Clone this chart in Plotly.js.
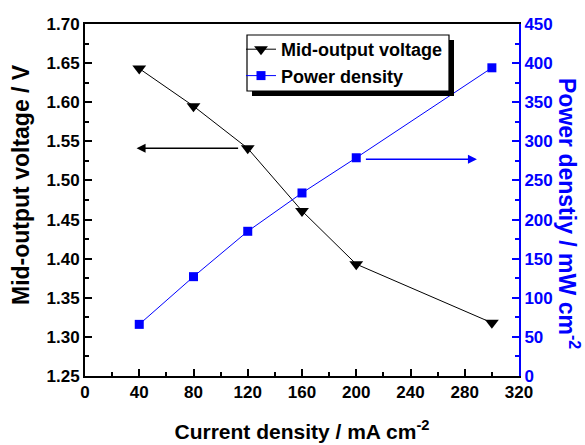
<!DOCTYPE html>
<html>
<head>
<meta charset="utf-8">
<script src="https://cdn.plot.ly/plotly-3.0.1.min.js"></script>
<style>html,body{margin:0;padding:0;background:#fff;}#chart{width:585px;height:445px;}</style>
</head>
<body>
<div id="chart"></div>
<script>
// Data
var currentDensity = [40, 80, 120, 160, 200, 300];
var midOutputVoltage = [1.643, 1.595, 1.541, 1.461, 1.393, 1.318];
var powerDensity = [66, 127, 185, 234, 279, 394];

var seriesNames = ['Mid-output voltage', 'Power density'];
var xTitle = 'Current density / mA cm<sup>-2</sup>';
var yTitle = 'Mid-output voltage / V';
var y2Title = 'Power denstiy / mW cm<sup>-2</sup>';

// Arrow annotations (data coordinates)
var leftArrow = {from: [114, 1.541], to: [38, 1.541]};
var rightArrow = {from: [206, 277], to: [289, 277]};

var FONT = 'Liberation Sans, Arial, Helvetica, sans-serif';
var BLUE = '#0000ff';

// plot area in pixels: left 85, right 519, top 24, bottom 376
var L = 85, R = 66, T = 24, B = 69, W = 585, H = 445;
var pw = W - L - R, ph = H - T - B;
function px(x) { return (x - L) / pw; }
function py(y) { return (H - B - y) / ph; }

var traces = [
  {
    x: currentDensity, y: midOutputVoltage, name: '<b>' + seriesNames[0] + '</b>',
    type: 'scatter', mode: 'lines+markers', yaxis: 'y',
    line: {color: '#000000', width: 1},
    marker: {symbol: 'triangle-down', size: 12, color: '#000000'}
  },
  {
    x: currentDensity, y: powerDensity, name: '<b>' + seriesNames[1] + '</b>',
    type: 'scatter', mode: 'lines+markers', yaxis: 'y2',
    line: {color: BLUE, width: 1},
    marker: {symbol: 'square', size: 9, color: BLUE}
  }
];

var tickFont = {family: FONT, size: 17, weight: 700, color: '#000'};

var layout = {
  width: W, height: H,
  margin: {l: L, r: R, t: T, b: B, pad: 0},
  paper_bgcolor: '#fff', plot_bgcolor: '#fff',
  showlegend: true,
  font: {family: FONT},
  xaxis: {
    range: [0, 320], tick0: 0, dtick: 40,
    ticks: 'inside', ticklen: 7, tickwidth: 2, tickcolor: '#000',
    tickprefix: '<b>', ticksuffix: '</b>',
    showline: true, linewidth: 2, linecolor: '#000', mirror: true,
    showgrid: false, zeroline: false,
    tickfont: tickFont,
    minor: {dtick: 20, ticks: 'inside', ticklen: 4, tickwidth: 2, tickcolor: '#000', showgrid: false},
    title: {text: '<b>' + xTitle + '</b>', font: {family: FONT, size: 21, color: '#000'}, standoff: 23}
  },
  yaxis: {
    range: [1.25, 1.70], tick0: 1.25, dtick: 0.05, tickformat: '.2f',
    ticks: 'inside', ticklen: 7, tickwidth: 2, tickcolor: '#000',
    tickprefix: '<b>', ticksuffix: '</b>',
    showline: true, linewidth: 2, linecolor: '#000',
    showgrid: false, zeroline: false,
    tickfont: tickFont,
    minor: {dtick: 0.025, ticks: 'inside', ticklen: 4, tickwidth: 2, tickcolor: '#000', showgrid: false}
  },
  yaxis2: {
    overlaying: 'y', side: 'right', anchor: 'x',
    range: [0, 450], tick0: 0, dtick: 50,
    ticks: 'inside', ticklen: 7, tickwidth: 2, tickcolor: BLUE,
    tickprefix: '<b>', ticksuffix: '</b>',
    showline: true, linewidth: 2, linecolor: BLUE,
    showgrid: false, zeroline: false,
    tickfont: {family: FONT, size: 17, weight: 700, color: BLUE},
    minor: {dtick: 25, ticks: 'inside', ticklen: 4, tickwidth: 2, tickcolor: BLUE, showgrid: false}
  },
  legend: {
    x: px(241), y: py(31), xanchor: 'left', yanchor: 'top',
    bgcolor: 'rgba(0,0,0,0)', borderwidth: 0,
    font: {family: FONT, size: 18, color: '#000'},
    itemwidth: 30, tracegroupgap: 0
  },
  shapes: [
    // legend shadow and box
    {type: 'rect', xref: 'paper', yref: 'paper',
     x0: px(252), x1: px(454), y0: py(40), y1: py(96),
     fillcolor: '#000', line: {width: 0}, layer: 'above'},
    {type: 'rect', xref: 'paper', yref: 'paper',
     x0: px(247), x1: px(449), y0: py(35), y1: py(91),
     fillcolor: '#fff', line: {color: '#000', width: 1.2}, layer: 'above'}
  ],
  annotations: [
    {xref: 'paper', yref: 'paper', x: px(21), y: py(185), xanchor: 'center', yanchor: 'middle',
     text: '<b>' + yTitle + '</b>', textangle: -90,
     showarrow: false, font: {family: FONT, size: 23, color: '#000'}},
    {xref: 'paper', yref: 'paper', x: px(569), y: py(213), xanchor: 'center', yanchor: 'middle',
     text: '<b>' + y2Title + '</b>', textangle: 90,
     showarrow: false, font: {family: FONT, size: 23, color: BLUE}},
    {xref: 'x', yref: 'y', axref: 'x', ayref: 'y',
     x: leftArrow.to[0], y: leftArrow.to[1], ax: leftArrow.from[0], ay: leftArrow.from[1],
     text: '', showarrow: true, arrowhead: 2, arrowsize: 1.2, arrowwidth: 1.5, arrowcolor: '#000'},
    {xref: 'x', yref: 'y2', axref: 'x', ayref: 'y2',
     x: rightArrow.to[0], y: rightArrow.to[1], ax: rightArrow.from[0], ay: rightArrow.from[1],
     text: '', showarrow: true, arrowhead: 2, arrowsize: 1.2, arrowwidth: 1.5, arrowcolor: BLUE}
  ]
};

Plotly.newPlot('chart', traces, layout, {displayModeBar: false, staticPlot: true});
</script>
</body>
</html>
